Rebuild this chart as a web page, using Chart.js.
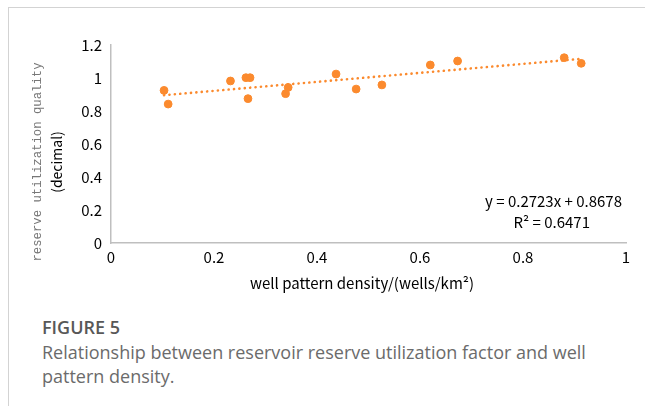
<!DOCTYPE html>
<html>
<head>
<meta charset="utf-8">
<script src="https://cdn.jsdelivr.net/npm/chart.js@4"></script>
<style>
  body { margin: 0; background: #fff; width: 645px; height: 406px; overflow: hidden; position: relative; }
  #card { position: absolute; left: 8px; top: 7px; width: 645px; height: 410px; border-left: 1px solid #d3d3d3; border-top: 1px solid #d3d3d3; }
  #wrap { position: absolute; left: 0; top: 0; width: 645px; height: 300px; }
  #cap { position: absolute; left: 42px; top: 315px; width: 575px; font-family: "Open Sans", "Noto Sans", sans-serif; color: #6b6b6b; }
  #cap .fig { font-size: 18px; line-height: 24px; font-weight: 600; color: #585858; margin-bottom: 1px; }
  #cap .txt { font-size: 18px; line-height: 24px; }
</style>
</head>
<body>
<div id="card"></div>
<div id="wrap"><canvas id="chartDensidad"></canvas></div>
<div id="cap">
  <div class="fig">FIGURE 5</div>
  <div class="txt">Relationship between reservoir reserve utilization factor and well pattern density.</div>
</div>
<script>
// datos
const densidad = [0.103, 0.111, 0.232, 0.262, 0.270, 0.266, 0.339, 0.344, 0.437, 0.476, 0.526, 0.620, 0.673, 0.880, 0.913];
const calidad  = [0.925, 0.842, 0.982, 1.002, 1.002, 0.875, 0.905, 0.943, 1.024, 0.933, 0.958, 1.079, 1.103, 1.123, 1.089];
const xTicks = [0, 0.2, 0.4, 0.6, 0.8, 1];
const yTicks = [0, 0.2, 0.4, 0.6, 0.8, 1, 1.2];

// linea de tendencia (ecuacion mostrada en la figura)
const pendiente = 0.2723;
const intercepto = 0.8678;
const ecuacion = 'y = 0.2723x + 0.8678';
const r2 = 'R² = 0.6471';
const tendX = [Math.min(...densidad), Math.max(...densidad)];

const naranja = '#fb8a2e';
const fuente = '"Noto Sans CJK SC", sans-serif';

const textos = {
  id: 'textos',
  afterDraw(chart) {
    const c = chart.ctx;
    c.save();
    // titulo eje y (dos lineas con fuentes distintas)
    c.translate(38, 162);
    c.rotate(-Math.PI / 2);
    c.textAlign = 'center';
    c.textBaseline = 'middle';
    c.fillStyle = '#777';
    c.font = '12.3px "Liberation Mono", monospace';
    c.fillText('reserve utilization quality', 0, 0);
    c.fillStyle = '#000';
    c.font = '14px ' + fuente;
    c.fillText('(decimal)', 0, 19);
    c.restore();

    c.save();
    c.fillStyle = '#000';
    c.textBaseline = 'middle';
    c.textAlign = 'center';
    c.font = '15px ' + fuente;
    c.fillText('well pattern density/(wells/km²)', 362, 283);
    c.textAlign = 'right';
    c.fillText(ecuacion, 622, 201);
    c.fillText(r2, 590, 222);
    c.restore();
  }
};

const ctx = document.getElementById('chartDensidad').getContext('2d');

const chartDensidad = new Chart(ctx, {
  type: 'scatter',
  data: {
    datasets: [
      {
        label: 'datos',
        data: densidad.map((x, i) => ({ x: x, y: calidad[i] })),
        backgroundColor: naranja,
        borderColor: naranja,
        pointRadius: 3.9,
        order: 1
      },
      {
        label: 'tendencia',
        type: 'line',
        data: tendX.map(x => ({ x: x, y: pendiente * x + intercepto })),
        borderColor: naranja,
        borderWidth: 2.6,
        borderDash: [0.1, 5.3],
        borderCapStyle: 'round',
        pointRadius: 0,
        fill: false,
        order: 2
      }
    ]
  },
  options: {
    responsive: true,
    maintainAspectRatio: false,
    animation: false,
    layout: { padding: { left: 0, right: 19, top: 45, bottom: 0 } },
    plugins: {
      legend: { display: false },
      tooltip: { enabled: false }
    },
    scales: {
      x: {
        type: 'linear',
        min: 0,
        max: 1,
        afterBuildTicks: s => { s.ticks = xTicks.map(v => ({ value: v })); },
        afterFit: s => { s.height = 57; },
        grid: { display: false, drawTicks: false },
        border: { color: '#bfbfbf', width: 1.5 },
        ticks: {
          color: '#000',
          padding: 5,
          maxRotation: 0,
          font: { family: fuente, size: 15 },
          callback: v => String(v)
        }
      },
      y: {
        min: 0,
        max: 1.2,
        afterBuildTicks: s => { s.ticks = yTicks.map(v => ({ value: v })); },
        afterFit: s => { s.width = 111; },
        grid: { display: false, drawTicks: false },
        border: { color: '#bfbfbf', width: 1.5 },
        ticks: {
          color: '#000',
          padding: 9,
          font: { family: fuente, size: 15 },
          callback: v => String(Math.round(v * 10) / 10)
        }
      }
    }
  },
  plugins: [textos]
});
</script>
</body>
</html>
